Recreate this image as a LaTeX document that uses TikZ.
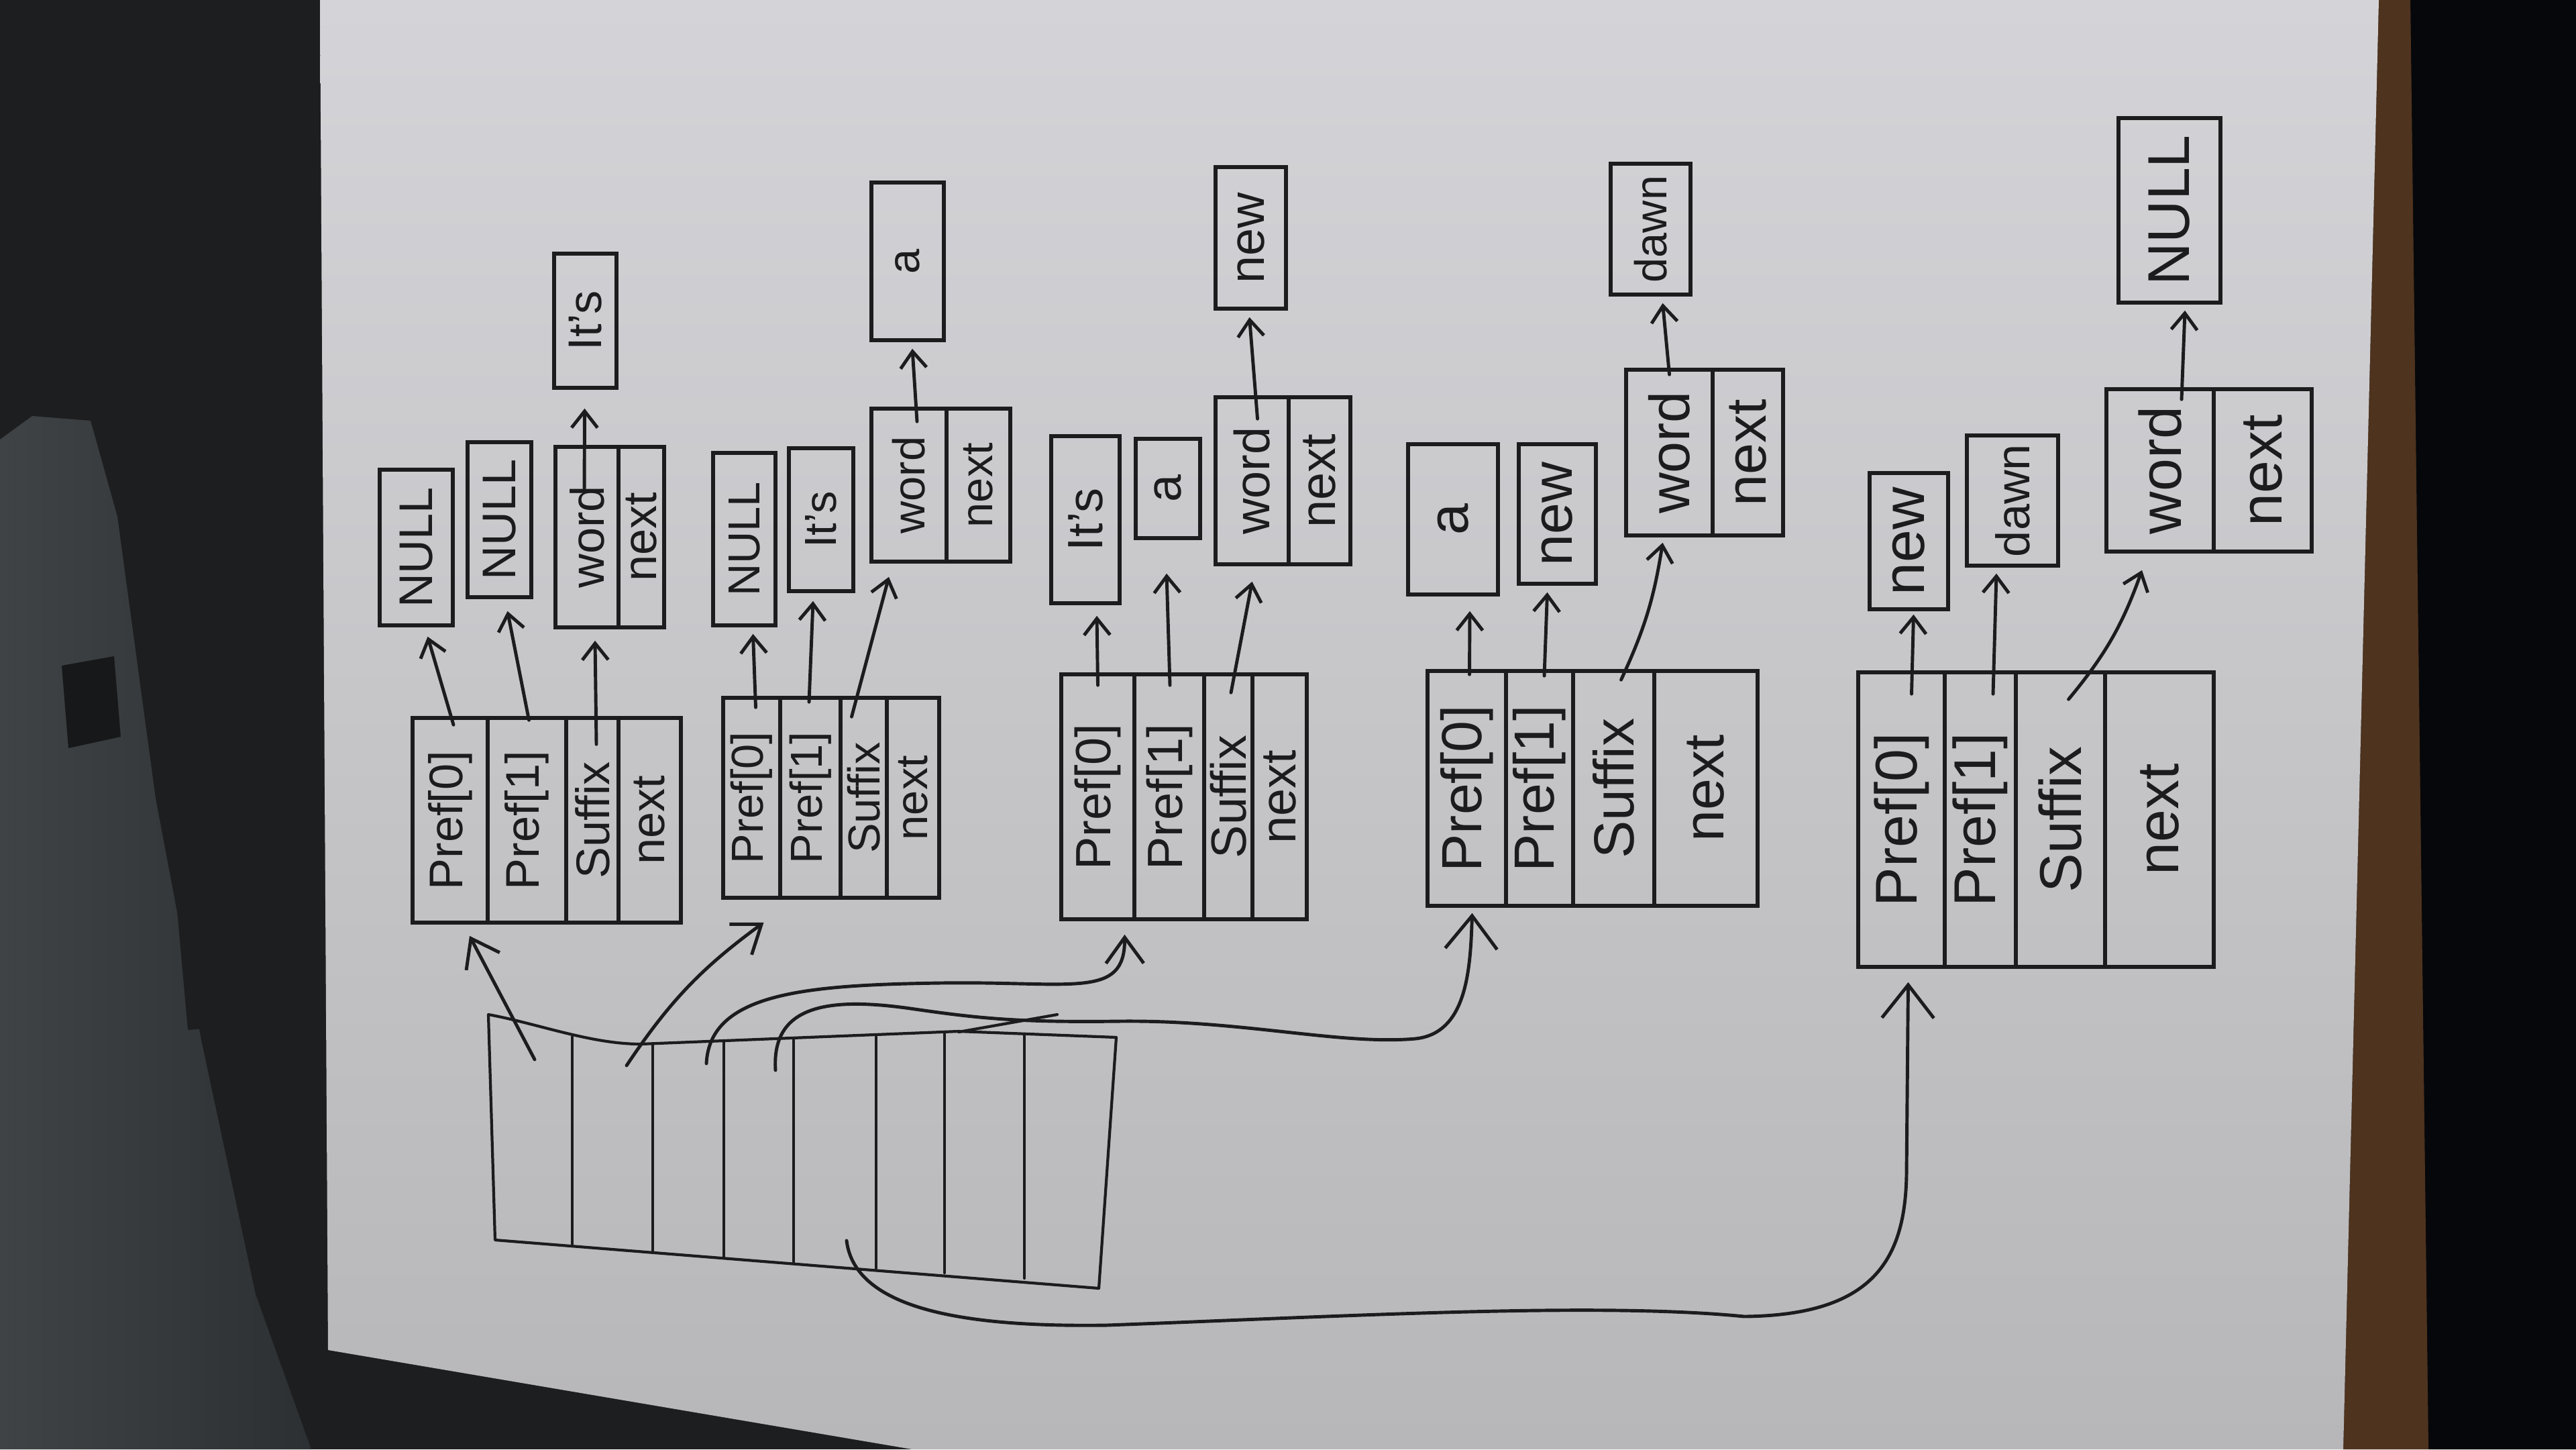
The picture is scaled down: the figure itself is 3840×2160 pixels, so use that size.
\documentclass[tikz,border=0pt]{standalone}
\usepackage{fontspec}
\setmainfont{Liberation Sans}
\usepackage{graphicx}
\usetikzlibrary{arrows.meta,calc}

\definecolor{ink}{HTML}{1C1C1E}
\definecolor{desk}{HTML}{1C1E1F}
\definecolor{paperhi}{HTML}{D4D4D8}
\definecolor{paperlo}{HTML}{B7B7B9}
\definecolor{wood}{HTML}{4E331E}
\definecolor{farside}{HTML}{06070A}
\definecolor{casingA}{HTML}{404345}
\definecolor{casingB}{HTML}{2D3032}

\newcommand\cellfont{\fontsize{20}{20}\selectfont}

\tikzset{
  cell/.style={draw=ink, line width=1.6pt, inner sep=0pt, text=ink, font=\cellfont},
  ptr/.style={draw=ink, line width=1.4pt, line cap=round,
    -{Straight Barb[length=7pt,width=11pt,line width=1.4pt]}},
  longptr/.style={draw=ink, line width=1.4pt, line cap=round,
    -{Straight Barb[length=11pt,width=16pt,line width=1.4pt]}},
  bigptr/.style={draw=ink, line width=1.4pt, line cap=round,
    -{Straight Barb[length=14pt,width=22pt,line width=1.4pt]}},
  tableline/.style={draw=ink, line width=1.2pt, line cap=round, line join=round},
}

% \cellbox[extra options]{name}{x0}{x1}{y0}{y1}{label}
\newcommand\cellbox[7][]{%
  \pgfmathsetmacro\cbx{(#3+#4)/2}%
  \pgfmathsetmacro\cby{(#5+#6)/2}%
  \pgfmathsetmacro\cbw{(#4-#3)*0.01}%
  \pgfmathsetmacro\cbh{(#6-#5)*0.01}%
  \node[cell, minimum width=\cbw cm, minimum height=\cbh cm, #1] (#2) at (\cbx,\cby) {\rotatebox{90}{#7}};%
}

\begin{document}
\begin{tikzpicture}[x=0.01cm, y=-0.01cm]
\useasboundingbox (0,0) rectangle (3840,2160);

% desk, casing on the left, wooden edge and dark side on the right
\fill[desk] (0,0) rectangle (3840,2160);
\shade[left color=casingA, right color=casingB]
  (0,655) -- (48,620) -- (135,627) -- (175,770) -- (232,1190) -- (300,1550)
  -- (381,1929) -- (464,2160) -- (0,2160) -- cycle;
\fill[desk!80!black] (92,992) -- (170,978) -- (180,1098) -- (102,1115) -- cycle;
\fill[desk] (250,1200) -- (320,1195) -- (335,1530) -- (280,1535) -- cycle;
\fill[farside] (3593,0) -- (3840,0) -- (3840,2160) -- (3620,2160) -- cycle;
\fill[wood] (3546,0) -- (3593,0) -- (3620,2160) -- (3493,2160) -- cycle;

% the sheet of paper
\shade[top color=paperhi, bottom color=paperlo]
  (477,0) -- (3546,0) -- (3493,2160) -- (1360,2160) -- (489,2012) -- cycle;

% ---------- hash table ----------
\draw[tableline] (728,1512) .. controls (800,1525) and (880,1556) .. (955,1556)
  -- (1429,1537) -- (1664,1546) -- (1638,1920) -- (738,1848) -- cycle;
\foreach \xa/\ya/\yb in {853/1545/1857, 973/1555/1866, 1079/1551/1873, 1183/1547/1881,
                          1306/1542/1890, 1408/1538/1897, 1527/1541/1905}
  \draw[tableline] (\xa,\ya) -- (\xa,\yb);
\draw[tableline] (1429,1538) -- (1576,1512);

\coordinate (slot1) at (797,1579);
\coordinate (slot2) at (934,1588);
\coordinate (slot3) at (1053,1585);
\coordinate (slot4) at (1156,1595);
\coordinate (slot5) at (1262,1849);

% ---------- state 1 ----------
\cellbox{s1p0}{615}{727}{1070}{1375}{Pref[0]}
\cellbox{s1p1}{727}{844}{1070}{1375}{Pref[1]}
\cellbox{s1s}{844}{922}{1070}{1375}{Suffix}
\cellbox{s1n}{922}{1015}{1070}{1375}{next}
\cellbox{s1a}{566}{675}{700}{932}{NULL}
\cellbox{s1b}{697}{792}{659}{890}{NULL}
\cellbox{s1w}{828}{922}{666}{935}{word}
\cellbox{s1x}{922}{990}{666}{935}{next}
\cellbox{s1t}{826}{919}{378}{578}{It's}
\draw[ptr] ($(s1p0.north)+(5,13)$) -- ($(s1a.south)+(17,14)$);
\draw[ptr] ($(s1p1.north)+(3,6)$) -- ($(s1b.south)+(12,18)$);
\draw[ptr] ($(s1s.north)+(6,42)$) -- ($(s1w.south)+(12,17)$);
\draw[ptr] ($(s1w.north)+(-4,70)$) -- ($(s1t.south)+(-1,28)$);

% ---------- state 2 ----------
\renewcommand\cellfont{\fontsize{19}{19}\selectfont}
\cellbox{s2p0}{1078}{1163}{1040}{1338}{Pref[0]}
\cellbox{s2p1}{1163}{1253}{1040}{1338}{Pref[1]}
\cellbox{s2s}{1253}{1322}{1040}{1338}{Suffix}
\cellbox{s2n}{1322}{1400}{1040}{1338}{next}
\cellbox{s2a}{1063}{1156}{675}{932}{NULL}
\cellbox{s2b}{1176}{1272}{668}{881}{It's}
\cellbox{s2w}{1299}{1411}{609}{837}{word}
\cellbox{s2x}{1411}{1506}{609}{837}{next}
\cellbox{s2t}{1299}{1407}{272}{507}{a}
\draw[ptr] ($(s2p0.north)+(6,17)$) -- ($(s2a.south)+(13,10)$);
\draw[ptr] ($(s2p1.north)+(-2,9)$) -- ($(s2b.south)+(-12,12)$);
\draw[ptr] ($(s2s.north)+(-18,31)$) -- ($(s2w.south)+(-30,20)$);
\draw[ptr] ($(s2w.north)+(12,22)$) -- ($(s2t.south)+(7,10)$);

% ---------- state 3 ----------
\renewcommand\cellfont{\fontsize{21}{21}\selectfont}
\cellbox{s3p0}{1582}{1691}{1005}{1370}{Pref[0]}
\cellbox{s3p1}{1691}{1795}{1005}{1370}{Pref[1]}
\cellbox{s3s}{1795}{1867}{1005}{1370}{Suffix}
\cellbox{s3n}{1867}{1948}{1005}{1370}{next}
\cellbox{s3a}{1567}{1669}{650}{899}{It's}
\cellbox{s3b}{1693}{1789}{654}{802}{a}
\cellbox{s3w}{1812}{1921}{592}{841}{word}
\cellbox{s3x}{1921}{2013}{592}{841}{next}
\cellbox{s3t}{1812}{1917}{249}{460}{new}
\draw[ptr] ($(s3p0.north)+(0,19)$) -- ($(s3a.south)+(17,16)$);
\draw[ptr] ($(s3p1.north)+(1,19)$) -- ($(s3b.south)+(-2,50)$);
\draw[ptr] ($(s3s.north)+(4,30)$) -- ($(s3w.south)+(0,23)$);
\draw[ptr] ($(s3w.north)+(8,35)$) -- ($(s3t.south)+(-2,10)$);

% ---------- state 4 ----------
\renewcommand\cellfont{\fontsize{24}{24}\selectfont}
\cellbox{s4p0}{2128}{2245}{1000}{1350}{Pref[0]}
\cellbox{s4p1}{2245}{2345}{1000}{1350}{Pref[1]}
\cellbox{s4s}{2345}{2466}{1000}{1350}{Suffix}
\cellbox{s4n}{2466}{2620}{1000}{1350}{next}
\cellbox{s4a}{2099}{2233}{662}{886}{a}
\cellbox{s4b}{2264}{2379}{662}{870}{new}
\cellbox{s4w}{2424}{2553}{551}{798}{word}
\cellbox{s4x}{2553}{2658}{551}{798}{next}
\cellbox[font=\fontsize{19}{19}\selectfont]{s4t}{2401}{2520}{244}{439}{dawn}
\draw[ptr] ($(s4p0.north)+(4,8)$) -- ($(s4a.south)+(25,22)$);
\draw[ptr] ($(s4p1.north)+(7,10)$) -- ($(s4b.south)+(-15,10)$);
\draw[ptr] ($(s4s.north)+(11,16)$) to[bend right=8] ($(s4w.south)+(-10,8)$);
\draw[ptr] ($(s4w.north)+(0,10)$) -- ($(s4t.south)+(18,10)$);

% ---------- state 5 ----------
\renewcommand\cellfont{\fontsize{25}{25}\selectfont}
\cellbox{s5p0}{2770}{2899}{1002}{1441}{Pref[0]}
\cellbox{s5p1}{2899}{3005}{1002}{1441}{Pref[1]}
\cellbox{s5s}{3005}{3138}{1002}{1441}{Suffix}
\cellbox{s5n}{3138}{3300}{1002}{1441}{next}
\cellbox{s5a}{2787}{2904}{705}{908}{new}
\cellbox[font=\fontsize{20}{20}\selectfont]{s5b}{2932}{3068}{649}{843}{dawn}
\cellbox{s5w}{3140}{3300}{580}{822}{word}
\cellbox{s5x}{3300}{3446}{580}{822}{next}
\cellbox{s5t}{3158}{3310}{176}{451}{NULL}
\draw[ptr] ($(s5p0.north)+(15,35)$) -- ($(s5a.south)+(7,5)$);
\draw[ptr] ($(s5p1.north)+(19,35)$) -- ($(s5b.south)+(-24,9)$);
\draw[ptr] ($(s5s.north)+(12,43)$) to[bend right=10] ($(s5w.south)+(-27,25)$);
\draw[ptr] ($(s5w.north)+(32,18)$) -- ($(s5t.south)+(23,9)$);

% ---------- buckets to their states ----------
\draw[longptr] (slot1) -- ($(s1p0.south)+(29,17)$);
\draw[longptr] (slot2) to[bend left=10] ($(s2p0.south)+(18,34)$);
\draw[longptr] (slot3) .. controls (1058,1480) and (1200,1468) .. (1402,1465)
  .. controls (1600,1462) and (1677,1490) .. ($(s3p0.south)+(40,20)$);
\draw[bigptr] (slot4) .. controls (1150,1500) and (1230,1485) .. (1357,1503)
  .. controls (1460,1518) and (1520,1524) .. (1670,1522)
  .. controls (1850,1520) and (2000,1558) .. (2110,1548)
  .. controls (2185,1540) and (2192,1450) .. ($(s4p0.south)+(8,8)$);
\draw[bigptr] (slot5) .. controls (1275,1955) and (1450,1978) .. (1650,1975)
  .. controls (2000,1962) and (2380,1940) .. (2600,1962)
  .. controls (2790,1960) and (2840,1880) .. (2842,1750)
  -- ($(s5p0.south)+(10,20)$);

\end{tikzpicture}
\end{document}
